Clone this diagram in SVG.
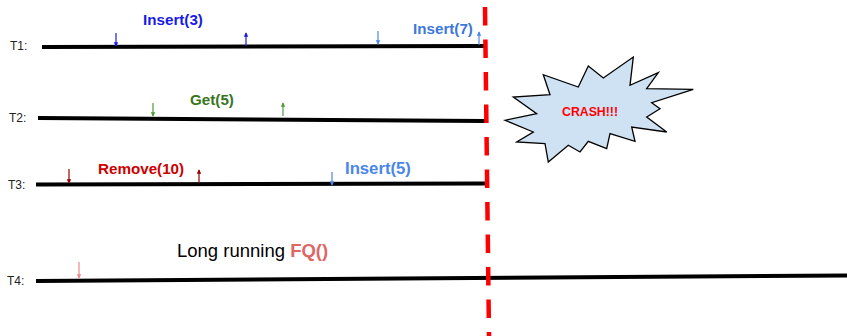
<svg xmlns="http://www.w3.org/2000/svg" width="847" height="336" viewBox="0 0 847 336">
  <style>
    .lane { stroke: #000; stroke-width: 4; stroke-linecap: butt; fill: none; }
    .tl { font-family: "Liberation Sans", Arial, sans-serif; font-size: 12px; fill: #222; }
    .op { font-family: "Liberation Sans", Arial, sans-serif; font-weight: bold; }
    .tick { stroke-width: 1.2; fill: none; }
    .crash { stroke: #ff0000; stroke-width: 4.5; stroke-dasharray: 18.5 14; fill: none; }
  </style>
  <defs>
    <marker id="ah" viewBox="0 0 6 8" refX="5" refY="3" markerWidth="5" markerHeight="6" markerUnits="userSpaceOnUse" orient="auto">
      <path d="M0,0 L6,3 L0,6 Z" fill="context-stroke"/>
    </marker>
  </defs>

  <!-- thread timelines -->
  <g id="lanes">
    <g id="t1"><line class="lane" x1="42" y1="47" x2="485" y2="46"/><text class="tl" x="10" y="50">T1:</text></g>
    <g id="t2"><line class="lane" x1="38" y1="118" x2="485" y2="121"/><text class="tl" x="9" y="122">T2:</text></g>
    <g id="t3"><line class="lane" x1="36" y1="184.5" x2="485" y2="183.5"/><text class="tl" x="8" y="189">T3:</text></g>
    <g id="t4"><line class="lane" x1="36" y1="281" x2="847" y2="275.5"/><text class="tl" x="7" y="285">T4:</text></g>
  </g>

  <!-- operation call / return ticks -->
  <g id="connectors">
    <line class="tick" stroke="#1a1ae6" x1="116" y1="33" x2="116" y2="46" marker-end="url(#ah)"/>
    <line class="tick" stroke="#1a1ae6" x1="246" y1="46" x2="246" y2="33" marker-end="url(#ah)"/>
    <line class="tick" stroke="#4a86e8" x1="378" y1="31" x2="378" y2="44" marker-end="url(#ah)"/>
    <line class="tick" stroke="#4a86e8" x1="479" y1="45" x2="479" y2="32" marker-end="url(#ah)"/>
    <line class="tick" stroke="#4f9a3a" x1="153" y1="103" x2="153" y2="116" marker-end="url(#ah)"/>
    <line class="tick" stroke="#4f9a3a" x1="283" y1="116" x2="283" y2="103" marker-end="url(#ah)"/>
    <line class="tick" stroke="#990000" x1="69" y1="169" x2="69" y2="183" marker-end="url(#ah)"/>
    <line class="tick" stroke="#990000" x1="199" y1="183" x2="199" y2="170" marker-end="url(#ah)"/>
    <line class="tick" stroke="#4a86e8" x1="332" y1="172" x2="332" y2="185" marker-end="url(#ah)"/>
    <line class="tick" stroke="#ea8a8a" x1="79" y1="262" x2="79" y2="278" marker-end="url(#ah)"/>
  </g>

  <!-- operation labels -->
  <g id="labels">
    <text class="op" x="143" y="25" font-size="15.2" fill="#1a1ae6">Insert(3)</text>
    <text class="op" x="413" y="34" font-size="15.2" fill="#3c78d8">Insert(7)</text>
    <text class="op" x="190" y="105" font-size="15.2" fill="#38761d">Get(5)</text>
    <text class="op" x="98" y="174" font-size="15.2" fill="#cc0000">Remove(10)</text>
    <text class="op" x="345" y="174" font-size="16.7" fill="#4a86e8">Insert(5)</text>
    <text x="177" y="257" font-family="Liberation Sans, Arial, sans-serif" font-size="18.5" fill="#000">Long running <tspan font-weight="bold" fill="#e06666">FQ()</tspan></text>
  </g>

  <!-- crash point -->
  <line id="crash-line" class="crash" x1="485" y1="7" x2="489" y2="336"/>

  <g id="crash">
    <polygon points="505,120.3 536.7,113.7 513.3,97 550,94.7 543.3,74.7 578.3,87 588.3,66 603.3,78 633.3,57 630,85.3 658.3,72.7 646.7,88.7 693.3,89.3 651.7,102.7 660,108.7 646.7,117 666.7,132 631.7,127 635,141.3 610,133.7 606.7,148.7 588.3,141.3 580,152 568.3,145.3 548.3,162 545,143.7 516.7,142 533.3,132" fill="#cfe2f3" stroke="#000" stroke-width="1.3" stroke-linejoin="miter"/>
    <text class="op" x="562" y="116" font-size="12.3" fill="#ff0000">CRASH!!!</text>
  </g>
</svg>
